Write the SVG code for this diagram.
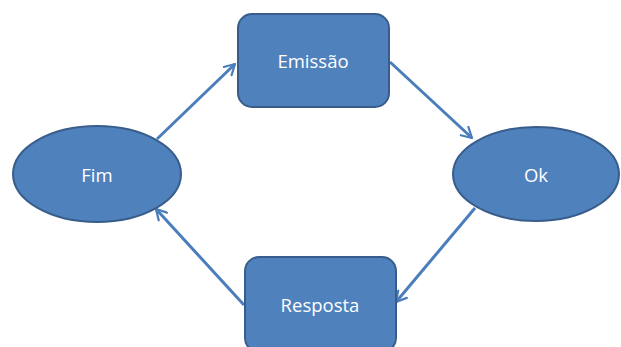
<svg xmlns="http://www.w3.org/2000/svg" width="621" height="347" viewBox="0 0 621 347">
  <defs>
    <marker id="open-arrow" viewBox="0 0 12 12" refX="10" refY="6" markerWidth="4.5" markerHeight="4.5" orient="auto" markerUnits="strokeWidth">
      <path d="M1,1 L10,6 L1,11" fill="none" stroke="#4a7ebb" stroke-width="2" stroke-linecap="round" stroke-linejoin="round"/>
    </marker>
  </defs>
  <style>
    .shape { fill: #4f81bd; stroke: #385d8a; stroke-width: 2; }
    .label { font-family: "Open Sans", "Liberation Sans", sans-serif; font-size: 18.5px; fill: #ffffff; text-anchor: middle; dominant-baseline: central; }
    .edge { fill: none; stroke: #4a7ebb; stroke-width: 3; marker-end: url(#open-arrow); }
  </style>
  <rect width="621" height="347" fill="#ffffff"/>

  <g id="connectors">
    <line class="edge" x1="157" y1="139" x2="235" y2="64"/>
    <line class="edge" x1="390" y1="62" x2="472" y2="138"/>
    <line class="edge" x1="475" y1="208" x2="396" y2="302"/>
    <line class="edge" x1="244" y1="305" x2="156" y2="209"/>
  </g>

  <g id="emissao">
    <rect class="shape" x="238" y="14" width="151" height="93" rx="14"/>
    <text class="label" x="313" y="60">Emissão</text>
  </g>

  <g id="ok">
    <ellipse class="shape" cx="536" cy="174" rx="83" ry="47"/>
    <text class="label" x="536" y="174">Ok</text>
  </g>

  <g id="resposta">
    <rect class="shape" x="245" y="257" width="151" height="95" rx="14"/>
    <text class="label" x="320" y="304">Resposta</text>
  </g>

  <g id="fim">
    <ellipse class="shape" cx="97" cy="174" rx="84" ry="48"/>
    <text class="label" x="97" y="174">Fim</text>
  </g>
</svg>
